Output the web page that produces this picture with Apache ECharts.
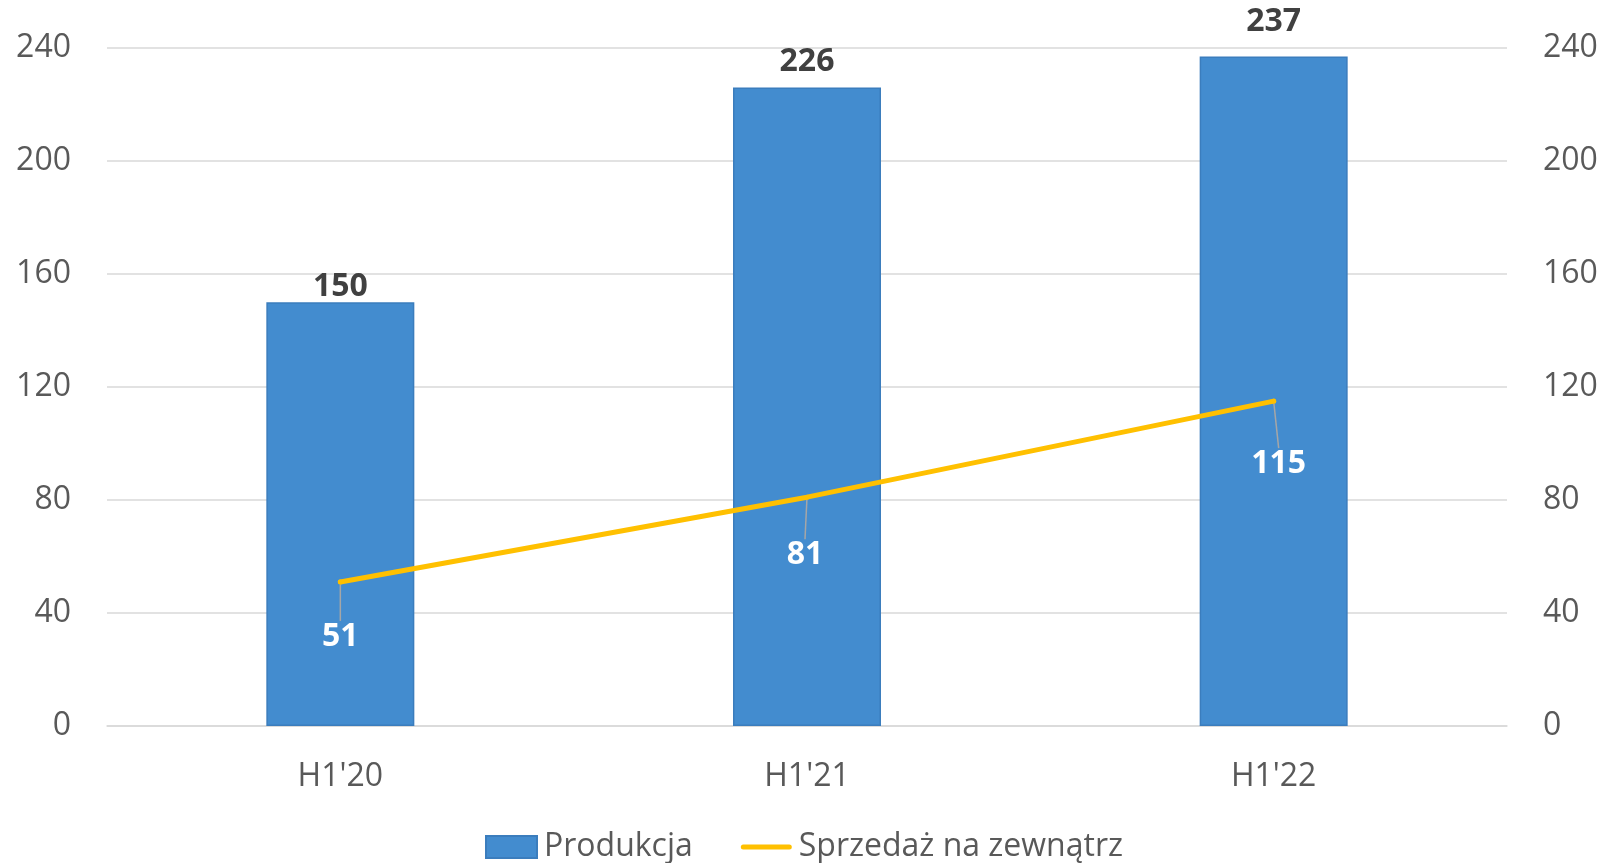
<!DOCTYPE html>
<html>
<head>
<meta charset="utf-8">
<script src="https://cdn.jsdelivr.net/npm/echarts@6/dist/echarts.min.js"></script>
<style>html,body{margin:0;padding:0;background:#fff}#c{width:1608px;height:863px}</style>
</head>
<body>
<div id="c"></div>
<script>
const categories = ["H1'20", "H1'21", "H1'22"];
const produkcja = [150, 226, 237];
const sprzedaz = [51, 81, 115];
const seriesNames = ['Produkcja', 'Sprzedaż na zewnątrz'];
const axisMin = 0, axisMax = 240, axisInterval = 40;

const FONT = 'Open Sans';
const barLabelShift = [3, -8, -17];
const lineLabelShift = [[0, 55], [-2, 58], [5, 63]];
const chart = echarts.init(document.getElementById('c'));
const yAxisCommon = {
  type: 'value', min: axisMin, max: axisMax, interval: axisInterval,
  axisLine: {show: false}, axisTick: {show: false},
  axisLabel: {color: '#595959', fontSize: 32, fontFamily: FONT, margin: 36, padding: [8, 0, 0, 0]},
  splitLine: {lineStyle: {color: '#d9d9d9', width: 1.5}}
};
chart.setOption({
  animation: false,
  textStyle: {fontFamily: FONT},
  grid: {left: 107, right: 101, top: 48, bottom: 137, containLabel: false},
  legend: {
    top: 826, left: 'center', itemWidth: 51, itemHeight: 22, itemGap: 48,
    textStyle: {color: '#595959', fontSize: 32, fontFamily: FONT, padding: [0, 0, 0, 2]},
    data: [
      {name: seriesNames[0], icon: 'rect'},
      {name: seriesNames[1], icon: 'path://M2.5,0 H48.5 A2.5,2.5 0 0 1 48.5,5 H2.5 A2.5,2.5 0 0 1 2.5,0 Z'}
    ]
  },
  xAxis: {
    type: 'category', data: categories,
    axisLine: {lineStyle: {color: '#d9d9d9', width: 1.5}},
    axisTick: {show: false},
    axisLabel: {color: '#595959', fontSize: 32, fontFamily: FONT, margin: 35}
  },
  yAxis: [
    Object.assign({}, yAxisCommon, {position: 'left'}),
    Object.assign({}, yAxisCommon, {position: 'right', splitLine: {show: false}})
  ],
  series: [
    {
      name: seriesNames[0], type: 'bar', data: produkcja, yAxisIndex: 0,
      barWidth: 148,
      itemStyle: {color: '#438ccf', borderColor: '#3b7dbd', borderWidth: 1.5},
      label: {show: true, position: 'top', distance: 2, color: '#404040', fontSize: 32, fontWeight: 'bold', fontFamily: FONT},
      labelLayout: function (p) { return {dy: barLabelShift[p.dataIndex] || 0}; }
    },
    {
      name: seriesNames[1], type: 'line', data: sprzedaz, yAxisIndex: 1,
      symbol: 'circle', symbolSize: 5, z: 5,
      itemStyle: {color: '#ffc000'},
      lineStyle: {color: '#ffc000', width: 5, cap: 'round'},
      label: {show: true, position: 'inside', color: '#ffffff', fontSize: 32, fontWeight: 'bold', fontFamily: FONT},
      labelLayout: function (p) { const s = lineLabelShift[p.dataIndex] || [0, 55]; return {dx: s[0], dy: s[1]}; },
      labelLine: {show: true, lineStyle: {color: '#a6a6a6', width: 1.5}}
    }
  ]
});
</script>
</body>
</html>
